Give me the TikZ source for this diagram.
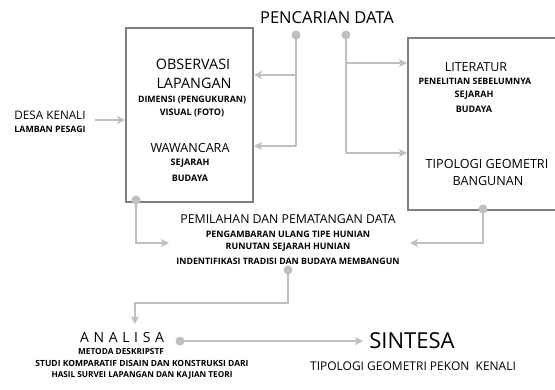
\documentclass[tikz,border=0pt]{standalone}
\usepackage{fontspec}
\setmainfont{Open Sans}
\usetikzlibrary{arrows.meta}
\definecolor{boxgray}{HTML}{7F7F7F}
\definecolor{linegray}{HTML}{BFBFBF}
\newcommand{\fpx}[1]{\fontsize{\fpeval{#1*0.75}pt}{\fpeval{#1*0.75*1.2}pt}\selectfont}
\tikzset{
  frame/.style={draw=boxgray, line width=1.5pt},
  conn/.style={draw=linegray, line width=2pt},
  arr/.style={conn, -{Stealth[length=6pt,width=6pt,inset=1.5pt]}},
  dotc/.style={circle, fill=linegray, inner sep=0pt, minimum size=6.5pt},
  txt/.style={inner sep=0pt, align=center, text=black},
  sm/.style={txt, font=\fpx{#1}\bfseries},
}
\begin{document}
\begin{tikzpicture}[x=0.75pt,y=-0.75pt]
\useasboundingbox (0,0) rectangle (555,389);
% boxes
\node[frame, minimum width=127*0.75pt, minimum height=174*0.75pt, inner sep=0pt, anchor=north west] (lbox) at (125,27) {};
\node[frame, minimum width=160*0.75pt, minimum height=172*0.75pt, inner sep=0pt, anchor=north west] (rbox) at (407,37) {};
% title
\node[txt, font=\fpx{16.5}] (title) at (327,18) {PENCARIAN DATA};
% left input
\node[txt, font=\fpx{11.7}] (desa) at (50,115) {DESA KENALI};
\node[sm=8.8] (lamban) at (50,129) {LAMBAN PESAGI};
\coordinate (din) at (95,120);
% left box text
\node[txt, font=\fpx{14.4}] (obs) at (193,64) {OBSERVASI};
\node[txt, font=\fpx{14.4}] (lap) at (194,83) {LAPANGAN};
\node[sm=8.8] (dim) at (192,100) {DIMENSI (PENGUKURAN)};
\node[sm=9] (vis) at (192,113) {VISUAL (FOTO)};
\node[txt, font=\fpx{12.6}] (waw) at (190,148) {WAWANCARA};
\node[sm=9] (sej1) at (190,163) {SEJARAH};
\node[sm=9] (bud1) at (190,178) {BUDAYA};
% right box text
\node[txt, font=\fpx{12.5}] (lit) at (476,67) {LITERATUR};
\node[sm=8.8] (pen) at (475,81) {PENELITIAN SEBELUMNYA};
\node[sm=9] (sej2) at (474,95) {SEJARAH};
\node[sm=9] (bud2) at (474,109) {BUDAYA};
\node[txt, font=\fpx{12.6}] (tip) at (487,164) {TIPOLOGI GEOMETRI};
\node[txt, font=\fpx{12.6}] (bang) at (488,181) {BANGUNAN};
% middle text
\node[txt, font=\fpx{12.3}] (pem) at (288,219) {PEMILAHAN DAN PEMATANGAN DATA};
\node[sm=8.9] (peng) at (288,234) {PENGAMBARAN ULANG TIPE HUNIAN};
\node[sm=8.9] (run) at (288,247) {RUNUTAN SEJARAH HUNIAN};
\node[sm=8.8] (ind) at (288,261) {INDENTIFIKASI TRADISI DAN BUDAYA MEMBANGUN};
% analisa
\node[txt, font=\fpx{14}] (ana) at (122,337) {A\,\,N\,\,A\,\,L\,\,I\,\,S\,\,A};
\node[sm=8.3] (met) at (121,352) {METODA DESKRIPSTF};
\node[sm=8.5] (stu) at (142,363) {STUDI KOMPARATIF DISAIN DAN KONSTRUKSI DARI};
\node[sm=8.2] (has) at (142,375) {HASIL SURVEI LAPANGAN DAN KAJIAN TEORI};
% sintesa
\node[txt, font=\fpx{22}] (sin) at (412,341) {SINTESA};
\node[txt, font=\fpx{12}] (tipk) at (413,366) {TIPOLOGI GEOMETRI PEKON\ \ KENALI};
% dots
\node[dotc] (d1) at (296,35) {};
\node[dotc] (d2) at (346,35) {};
\node[dotc] (d3) at (136,200) {};
\node[dotc] (d4) at (483,209) {};
\node[dotc] (d5) at (288,270) {};
\node[dotc] (d6) at (180,341) {};
% coordinates
\coordinate (a1) at (296,75);
\coordinate (a2) at (296,146);
\coordinate (b1) at (346,63);
\coordinate (b2) at (346,153);
\coordinate (c1) at (136,243);
\coordinate (c2) at (169,243);
\coordinate (e1) at (483,243);
\coordinate (e2) at (410,243);
\coordinate (f1) at (288,303);
\coordinate (f2) at (135,303);
\coordinate (f3) at (135,324);
\coordinate (g1) at (363,341);
% connectors
\draw[arr] (din) -- (din -| lbox.west);
\draw[conn] (d1.center) -- (a2);
\draw[arr] (a1) -- (a1 -| lbox.east);
\draw[arr] (a2) -- (a2 -| lbox.east);
\draw[conn] (d2.center) -- (b2);
\draw[arr] (b1) -- (b1 -| rbox.west);
\draw[arr] (b2) -- (b2 -| rbox.west);
\draw[arr] (d3.center) -- (c1) -- (c2);
\draw[arr] (d4.center) -- (e1) -- (e2);
\draw[arr] (d5.center) -- (f1) -- (f2) -- (f3);
\draw[arr] (d6.center) -- (g1);
\node[dotc] at (d1) {};
\node[dotc] at (d2) {};
\node[dotc] at (d3) {};
\node[dotc] at (d4) {};
\node[dotc] at (d5) {};
\node[dotc] at (d6) {};
\end{tikzpicture}
\end{document}
